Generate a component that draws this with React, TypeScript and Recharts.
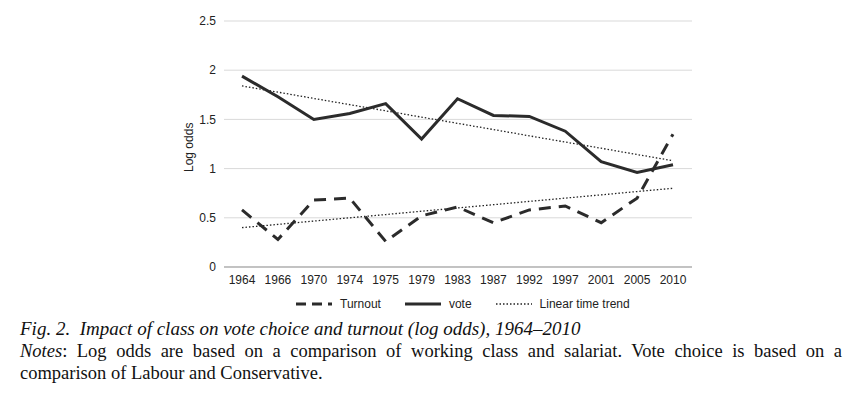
import { CartesianGrid, Line, LineChart, XAxis, YAxis } from 'recharts';

const years = ['1964', '1966', '1970', '1974', '1975', '1979', '1983', '1987', '1992', '1997', '2001', '2005', '2010'];
const turnout = [0.58, 0.28, 0.68, 0.7, 0.26, 0.52, 0.61, 0.45, 0.58, 0.62, 0.45, 0.7, 1.35];
const vote = [1.94, 1.73, 1.5, 1.56, 1.66, 1.3, 1.71, 1.54, 1.53, 1.38, 1.07, 0.96, 1.04];
const voteTrend = [1.84, 1.777, 1.713, 1.65, 1.587, 1.523, 1.46, 1.397, 1.333, 1.27, 1.207, 1.143, 1.08];
const turnoutTrend = [0.4, 0.433, 0.467, 0.5, 0.533, 0.567, 0.6, 0.633, 0.667, 0.7, 0.733, 0.767, 0.8];
const yTicks = [0, 0.5, 1, 1.5, 2, 2.5];

const data = years.map((y, i) => ({
  year: y,
  turnout: turnout[i],
  vote: vote[i],
  voteTrend: voteTrend[i],
  turnoutTrend: turnoutTrend[i],
}));

const font = '"Liberation Sans", Arial, sans-serif';

export default function App() {
  return (
    <div style={{ position: 'absolute', left: 0, top: 0, width: 856, height: 411, background: '#fff' }}>
      <LineChart width={856} height={300} data={data} margin={{ top: 21, right: 164, left: 184, bottom: 3 }}>
        <CartesianGrid vertical={false} stroke="#d9d9d9" />
        <XAxis
          dataKey="year"
          padding={{ left: 18, right: 19 }}
          tickLine={false}
          stroke="#999"
          tick={{ fill: '#222', fontSize: 12, fontFamily: font }}
          interval={0}
        />
        <YAxis
          domain={[0, 2.5]}
          ticks={yTicks}
          width={40}
          axisLine={false}
          tickLine={false}
          tick={{ fill: '#222', fontSize: 12, fontFamily: font }}
          label={{ value: 'Log odds', angle: -90, position: 'insideLeft', dx: 0, dy: 28, style: { fontSize: 12, fontFamily: font, fill: '#222' } }}
        />
        <Line dataKey="voteTrend" stroke="#222" strokeWidth={1.3} strokeDasharray="1.5 2" dot={false} isAnimationActive={false} />
        <Line dataKey="turnoutTrend" stroke="#222" strokeWidth={1.3} strokeDasharray="1.5 2" dot={false} isAnimationActive={false} />
        <Line type="linear" dataKey="turnout" stroke="#2b2b2b" strokeWidth={3} strokeDasharray="12 8" dot={false} isAnimationActive={false} />
        <Line type="linear" dataKey="vote" stroke="#2b2b2b" strokeWidth={3} dot={false} isAnimationActive={false} />
      </LineChart>
      <div style={{ position: 'absolute', top: 297, left: 296, display: 'flex', alignItems: 'center', gap: 24, fontFamily: font, fontSize: 12, color: '#222' }}>
        <span style={{ display: 'flex', alignItems: 'center', gap: 8 }}>
          <svg width={36} height={4}><line x1={0} y1={2} x2={36} y2={2} stroke="#2b2b2b" strokeWidth={3} strokeDasharray="10 6" /></svg>Turnout
        </span>
        <span style={{ display: 'flex', alignItems: 'center', gap: 8 }}>
          <svg width={36} height={4}><line x1={0} y1={2} x2={36} y2={2} stroke="#2b2b2b" strokeWidth={3} /></svg>vote
        </span>
        <span style={{ display: 'flex', alignItems: 'center', gap: 8 }}>
          <svg width={36} height={4}><line x1={0} y1={2} x2={36} y2={2} stroke="#222" strokeWidth={1.3} strokeDasharray="1.5 2" /></svg>Linear time trend
        </span>
      </div>
      <div style={{ position: 'absolute', top: 318, left: 20, width: 822, fontFamily: '"Liberation Serif", "Times New Roman", serif', fontSize: 19.5, lineHeight: '22px', color: '#111' }}>
        <div style={{ fontStyle: 'italic', fontSize: 19 }}>Fig. 2.&nbsp; Impact of class on vote choice and turnout (log odds), 1964–2010</div>
        <div style={{ textAlign: 'justify', textAlignLast: 'left', fontSize: 18.5 }}>
          <i>Notes</i>: Log odds are based on a comparison of working class and salariat. Vote choice is based on a comparison of Labour and Conservative.
        </div>
      </div>
    </div>
  );
}
